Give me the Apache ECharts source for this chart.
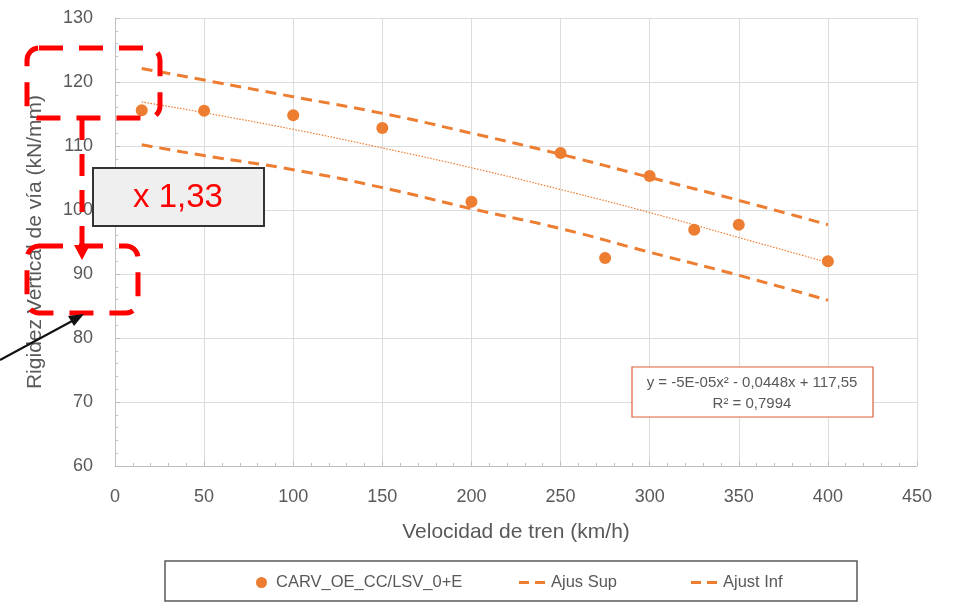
<!DOCTYPE html>
<html>
<head>
<meta charset="utf-8">
<script src="https://cdn.jsdelivr.net/npm/echarts@6/dist/echarts.min.js"></script>
<style>html,body{margin:0;padding:0;background:#fff}#c{width:960px;height:602px}</style>
</head>
<body>
<div id="c"></div>
<script>
// Data
const speeds = [15, 50, 100, 150, 200, 250, 275, 300, 325, 350, 400];
const rigidity = [115.6, 115.5, 114.8, 112.8, 101.3, 108.9, 92.5, 105.3, 96.9, 97.7, 92.0];
const lineX = [15, 50, 100, 150, 200, 250, 300, 350, 400];
const trendY = [116.9, 115.2, 112.6, 109.7, 106.6, 103.2, 99.6, 95.7, 91.8];
const ajusSup = [122.1, 120.3, 117.7, 115.1, 112.0, 108.7, 105.1, 101.5, 97.7];
const ajustInf = [110.2, 108.5, 106.3, 103.5, 100.2, 97.1, 93.4, 89.8, 85.9];
const xTicks = [0, 50, 100, 150, 200, 250, 300, 350, 400, 450];
const yTicks = [60, 70, 80, 90, 100, 110, 120, 130];
const names = ['CARV_OE_CC/LSV_0+E', 'Ajus Sup', 'Ajust Inf'];
const eqText = ['y = -5E-05x² - 0,0448x + 117,55', 'R² = 0,7994'];
const factorText = 'x 1,33';

const ORANGE = '#ED7D31';
const GRAY = '#595959';
const FONT = 'Liberation Sans';
const DASH_ICON = 'path://M0,0h10v3H0z M16,0h10v3H16z';
const pairs = (xs, ys) => xs.map((x, i) => [x, ys[i]]);

const chart = echarts.init(document.getElementById('c'), null, {renderer: 'canvas'});
chart.setOption({
  animation: false,
  backgroundColor: '#ffffff',
  textStyle: {fontFamily: FONT},
  grid: {left: 115, right: 43, top: 18, bottom: 136},
  xAxis: {
    type: 'value', min: xTicks[0], max: xTicks[xTicks.length - 1], interval: 50,
    name: 'Velocidad de tren (km/h)', nameLocation: 'middle', nameGap: 56,
    nameTextStyle: {color: GRAY, fontSize: 21, fontFamily: FONT},
    axisLine: {show: true, lineStyle: {color: '#bfbfbf', width: 1}},
    axisTick: {show: true, inside: true, length: 5, lineStyle: {color: '#bfbfbf'}},
    minorTick: {show: true, splitNumber: 5, length: 3, lineStyle: {color: '#bfbfbf'}},
    axisLabel: {color: GRAY, fontSize: 18, margin: 22, fontFamily: FONT},
    splitLine: {show: true, lineStyle: {color: '#dcdcdc', width: 1}}
  },
  yAxis: {
    type: 'value', min: yTicks[0], max: yTicks[yTicks.length - 1], interval: 10,
    name: 'Rigidez Vertical de vía (kN/mm)', nameLocation: 'middle', nameGap: 69,
    nameTextStyle: {color: GRAY, fontSize: 21, fontFamily: FONT},
    axisLine: {show: true, lineStyle: {color: '#bfbfbf', width: 1}},
    axisTick: {show: true, inside: true, length: 5, lineStyle: {color: '#bfbfbf'}},
    minorTick: {show: true, splitNumber: 5, length: 3, lineStyle: {color: '#bfbfbf'}},
    axisLabel: {color: GRAY, fontSize: 18, margin: 22, fontFamily: FONT},
    splitLine: {show: true, lineStyle: {color: '#dcdcdc', width: 1}}
  },
  legend: [
    {data: [{name: names[0], icon: 'circle'}], left: 251, top: 569, itemWidth: 11, itemHeight: 11, itemGap: 0,
     textStyle: {color: GRAY, fontSize: 16.5, fontFamily: FONT, padding: [0, 0, 0, 4]}},
    {data: [{name: names[1], icon: DASH_ICON}], left: 514, top: 569, itemWidth: 28, itemHeight: 3,
     itemStyle: {color: ORANGE},
     textStyle: {color: GRAY, fontSize: 16.5, fontFamily: FONT}},
    {data: [{name: names[2], icon: DASH_ICON}], left: 686, top: 569, itemWidth: 28, itemHeight: 3,
     itemStyle: {color: ORANGE},
     textStyle: {color: GRAY, fontSize: 16.5, fontFamily: FONT}}
  ],
  series: [
    {name: 'Tendencia', type: 'line', data: pairs(lineX, trendY), smooth: true, symbol: 'none',
     lineStyle: {color: ORANGE, width: 1.2, type: [1.5, 1.5]}, z: 2},
    {name: names[1], type: 'line', data: pairs(lineX, ajusSup), smooth: true, symbol: 'none',
     itemStyle: {color: ORANGE},
     lineStyle: {color: ORANGE, width: 3, type: [11, 7]}, z: 3},
    {name: names[2], type: 'line', data: pairs(lineX, ajustInf), smooth: true, symbol: 'none',
     itemStyle: {color: ORANGE},
     lineStyle: {color: ORANGE, width: 3, type: [11, 7]}, z: 3},
    {name: names[0], type: 'scatter', data: pairs(speeds, rigidity), symbol: 'circle', symbolSize: 12,
     itemStyle: {color: ORANGE, opacity: 1}, z: 4}
  ],
  graphic: [
    // legend frame
    {type: 'rect', z: 1, shape: {x: 165, y: 561, width: 692, height: 40},
     style: {fill: 'none', stroke: '#595959', lineWidth: 1.5}},
    // equation box
    {type: 'rect', z: 50, shape: {x: 632, y: 367, width: 241, height: 50},
     style: {fill: '#ffffff', stroke: '#E0603A', lineWidth: 1.2}},
    {type: 'text', z: 51, x: 752, y: 383,
     style: {text: eqText[0], fill: GRAY, font: '15px ' + FONT, textAlign: 'center', textVerticalAlign: 'middle'}},
    {type: 'text', z: 51, x: 752, y: 404,
     style: {text: eqText[1], fill: GRAY, font: '15px ' + FONT, textAlign: 'center', textVerticalAlign: 'middle'}},
    // red dashed frames
    {type: 'rect', z: 60, shape: {x: 27, y: 48, width: 133, height: 70, r: 12},
     style: {fill: 'none', stroke: '#ff0000', lineWidth: 5, lineDash: [24, 16]}},
    {type: 'rect', z: 60, shape: {x: 27, y: 246, width: 111, height: 67, r: 12},
     style: {fill: 'none', stroke: '#ff0000', lineWidth: 5, lineDash: [24, 16]}},
    {type: 'line', z: 60, shape: {x1: 82, y1: 118, x2: 82, y2: 250},
     style: {stroke: '#ff0000', lineWidth: 5, lineDash: [22, 14]}},
    {type: 'polygon', z: 60, shape: {points: [[74, 245], [90, 245], [82, 260]]},
     style: {fill: '#ff0000'}},
    // gray factor box
    {type: 'rect', z: 70, shape: {x: 93, y: 168, width: 171, height: 58},
     style: {fill: '#efefef', stroke: '#333333', lineWidth: 2}},
    {type: 'text', z: 71, x: 178, y: 198,
     style: {text: factorText, fill: '#ff0000', font: '33px ' + FONT, textAlign: 'center', textVerticalAlign: 'middle'}},
    // black arrow
    {type: 'line', z: 60, shape: {x1: 0, y1: 360, x2: 74, y2: 320},
     style: {stroke: '#111111', lineWidth: 2}},
    {type: 'polygon', z: 60, shape: {points: [[84, 314], [68, 316], [74, 326]]},
     style: {fill: '#111111'}}
  ]
});
</script>
</body>
</html>
